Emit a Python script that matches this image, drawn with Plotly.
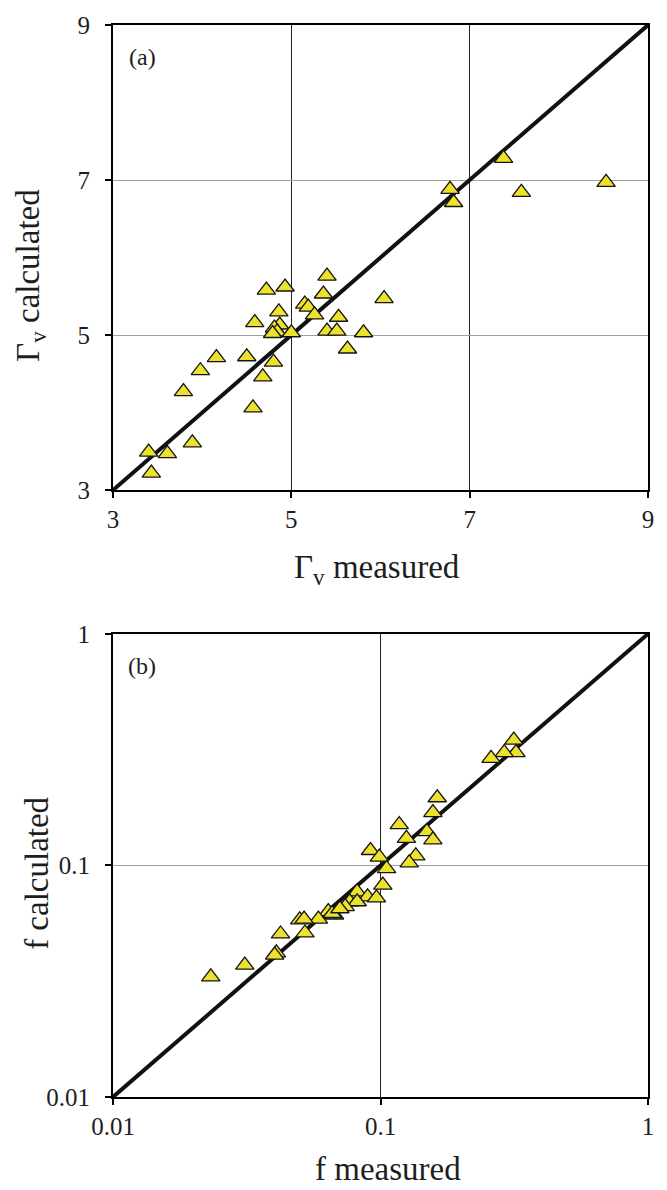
import plotly.graph_objects as go

# ---- (a) vapour parameter Γv: measured vs calculated ----
gamma_measured = [7.38, 8.53, 7.58, 6.78, 6.82, 5.40, 4.72, 4.93, 5.36, 6.04,
                  5.15, 5.19, 5.26, 4.86, 5.53, 4.59, 4.87, 4.81, 4.84, 4.79,
                  5.00, 5.40, 5.51, 5.81, 5.63, 4.50, 4.16, 4.80, 3.98, 4.68,
                  3.79, 4.57, 3.89, 3.61, 3.40, 3.43]
gamma_calculated = [7.28, 6.97, 6.84, 6.88, 6.71, 5.76, 5.58, 5.62, 5.53, 5.47,
                    5.40, 5.36, 5.26, 5.30, 5.23, 5.16, 5.13, 5.09, 5.04, 5.02,
                    5.03, 5.05, 5.05, 5.03, 4.82, 4.72, 4.71, 4.65, 4.54, 4.46,
                    4.27, 4.06, 3.61, 3.47, 3.49, 3.22]
gamma_line = [3, 9]
gamma_ticks = [3, 5, 7, 9]

# ---- (b) friction factor f: measured vs calculated ----
f_measured = [0.315, 0.321, 0.290, 0.259, 0.163, 0.157, 0.1175, 0.149, 0.157,
              0.125, 0.1355, 0.128, 0.0917, 0.099, 0.1054, 0.102, 0.0818,
              0.0895, 0.0966, 0.0767, 0.0818, 0.0738, 0.0638, 0.0673, 0.0586,
              0.0499, 0.0518, 0.0423, 0.0522, 0.0408, 0.0402, 0.0311, 0.0232,
              0.0660, 0.0705]
f_calculated = [0.348, 0.307, 0.307, 0.290, 0.196, 0.169, 0.150, 0.140, 0.129,
                0.131, 0.110, 0.1026, 0.116, 0.1086, 0.0968, 0.0822, 0.0769,
                0.0732, 0.0725, 0.0697, 0.0697, 0.0664, 0.0632, 0.0611, 0.0586,
                0.0582, 0.0586, 0.0506, 0.0511, 0.0419, 0.0410, 0.0371, 0.0330,
                0.0620, 0.0650]
f_line = [0.01, 1]
f_ticks = [0.01, 0.1, 1]
f_ticktext = ["0.01", "0.1", "1"]

SERIF = "Liberation Serif"
YELLOW = "#ECE22E"
INK = "#1e1e1e"

marker = dict(symbol="triangle-up", size=16, color=YELLOW,
              line=dict(color="#141414", width=1.3))

fig = go.Figure()
fig.add_trace(go.Scatter(x=gamma_line, y=gamma_line, mode="lines",
                         line=dict(color="#111111", width=4),
                         xaxis="x", yaxis="y", hoverinfo="skip"))
fig.add_trace(go.Scatter(x=gamma_measured, y=gamma_calculated, mode="markers",
                         marker=marker, xaxis="x", yaxis="y"))
fig.add_trace(go.Scatter(x=f_line, y=f_line, mode="lines",
                         line=dict(color="#111111", width=4),
                         xaxis="x2", yaxis="y2", hoverinfo="skip"))
fig.add_trace(go.Scatter(x=f_measured, y=f_calculated, mode="markers",
                         marker=marker, xaxis="x2", yaxis="y2"))

# plot-area geometry (pixels)
W, H = 667, 1190
L, R, T, B = 113, 19, 16, 93
PH = H - T - B          # 1081
PW = W - L - R          # 535
A_TOP, A_BOT = 16, 485
B_TOP, B_BOT = 630, 1097


def py(p):
    """pixel row -> paper y"""
    return (H - B - p) / PH


def px(p):
    """pixel column -> paper x"""
    return (p - L) / PW


common = dict(showline=True, linecolor="black", linewidth=2, mirror=True,
              ticks="outside", ticklen=6, tickwidth=1.5, tickcolor="black",
              zeroline=False, tickfont=dict(family=SERIF, size=25, color=INK),
              showgrid=True)
xgrid = dict(gridcolor="#222222", gridwidth=1)
ygrid = dict(gridcolor="#a0a0a0", gridwidth=1)

fig.update_layout(
    width=W, height=H,
    margin=dict(l=L, r=R, t=T, b=B, pad=0),
    paper_bgcolor="white", plot_bgcolor="white",
    showlegend=False,
    font=dict(family=SERIF, color=INK),
    xaxis=dict(domain=[0, 1], anchor="y", range=[3, 9], tickvals=gamma_ticks,
               ticklabelstandoff=0, **common, **xgrid),
    yaxis=dict(domain=[py(A_BOT), py(A_TOP)], anchor="x", range=[3, 9],
               tickvals=gamma_ticks, ticklabelstandoff=10, **common, **ygrid),
    xaxis2=dict(domain=[0, 1], anchor="y2", type="log", range=[-2, 0],
                tickvals=f_ticks, ticktext=f_ticktext, ticklabelstandoff=0,
                **common, **xgrid),
    yaxis2=dict(domain=[py(B_BOT), py(B_TOP)], anchor="x2", type="log",
                range=[-2, 0], tickvals=f_ticks, ticktext=f_ticktext,
                ticklabelstandoff=10, **common, **ygrid),
)

title_font = dict(family=SERIF, size=33, color=INK)
label_font = dict(family=SERIF, size=24, color=INK)
ann = [
    dict(text="(a)", x=px(142), y=py(48), font=label_font),
    dict(text="(b)", x=px(142), y=py(662), font=label_font),
    dict(text="Γ<sub>v</sub> measured", x=px(377), y=py(565), font=title_font),
    dict(text="f measured", x=px(388), y=py(1170), font=title_font),
    dict(text="Γ<sub>v</sub> calculated", x=px(31), y=py(269), textangle=-90, font=title_font),
    dict(text="f calculated", x=px(37), y=py(872), textangle=-90, font=title_font),
]
for a in ann:
    fig.add_annotation(xref="paper", yref="paper", showarrow=False,
                       xanchor="center", yanchor="middle", **a)

fig.write_html("out.html")
